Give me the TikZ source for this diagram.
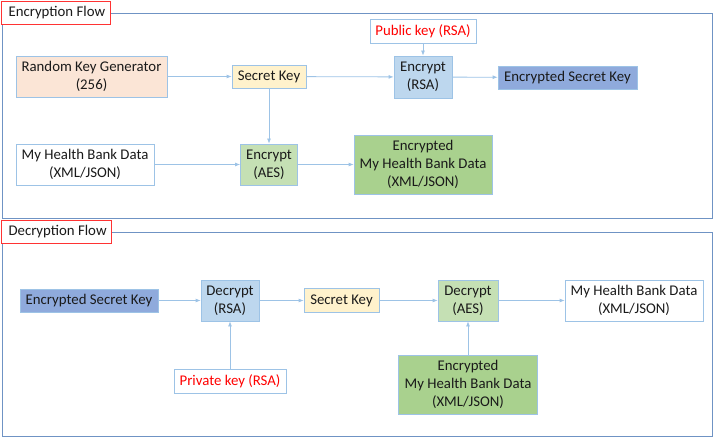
\documentclass[tikz,border=0pt]{standalone}
\usepackage{fontspec}
\setmainfont{Carlito}
\usetikzlibrary{arrows.meta}

\definecolor{frameblue}{HTML}{6F93C4}
\definecolor{boxblue}{HTML}{9DC3E6}
\definecolor{peach}{HTML}{FBE5D6}
\definecolor{paleyellow}{HTML}{FFF2CC}
\definecolor{palegreen}{HTML}{C5E0B4}
\definecolor{midgreen}{HTML}{A9D18E}
\definecolor{paleblue}{HTML}{BDD7EE}
\definecolor{midblue}{HTML}{8FAADC}
\definecolor{keyred}{HTML}{FF0000}
\definecolor{inkgray}{HTML}{1A1A1A}

\tikzset{
    stepbox/.style={draw=boxblue, line width=0.8pt, align=center, inner sep=1pt,
        text=inkgray, font=\fontsize{14.8}{18}\selectfont},
    flowframe/.style={draw=frameblue, line width=0.8pt},
    flowtitle/.style={draw=red!80, line width=0.8pt, fill=white},
    titletext/.style={anchor=west, text=inkgray, font=\fontsize{14.8}{18}\selectfont},
    flowarrow/.style={draw=boxblue, line width=0.8pt, -{Latex[length=5pt,width=4pt]}},
}

\begin{document}
\begin{tikzpicture}[x=1pt,y=-1pt]
    \useasboundingbox (0,0) rectangle (714,438);

    % frames
    \draw[flowframe] (2,13) rectangle (712,218);
    \draw[flowtitle] (1,1) rectangle (110,24);
    \node[titletext] (enctitle) at (5,12.5) {Encryption Flow};
    \draw[flowframe] (2,232) rectangle (712,436);
    \draw[flowtitle] (1,220) rectangle (111,243);
    \node[titletext] (dectitle) at (5,231.5) {Decryption Flow};

    % encryption flow
    \node[stepbox, fill=peach, minimum width=151, minimum height=41] (rkg) at (91.5,76.5) {Random Key Generator\\(256)};
    \node[stepbox, fill=paleyellow, minimum width=74, minimum height=23] (skA) at (269,76.5) {Secret Key};
    \node[stepbox, fill=paleblue, minimum width=58, minimum height=42] (ersa) at (423,77) {Encrypt\\(RSA)};
    \node[stepbox, fill=white, text=keyred, minimum width=106, minimum height=24] (pub) at (423,31) {Public key (RSA)};
    \node[stepbox, fill=midblue, minimum width=139, minimum height=23] (eskA) at (567.5,77.5) {Encrypted Secret Key};
    \node[stepbox, fill=white, minimum width=138, minimum height=41] (mhbdA) at (85,164.5) {My Health Bank Data\\(XML/JSON)};
    \node[stepbox, fill=palegreen, minimum width=57, minimum height=41] (eaes) at (269,164.5) {Encrypt\\(AES)};
    \node[stepbox, fill=midgreen, minimum width=138, minimum height=59] (emhbdA) at (423,164.5) {Encrypted\\My Health Bank Data\\(XML/JSON)};

    \draw[flowarrow] (rkg) -- (skA);
    \draw[flowarrow] (skA) -- (ersa);
    \draw[flowarrow] (pub) -- (ersa);
    \draw[flowarrow] (ersa) -- (eskA);
    \draw[flowarrow] (skA) -- (eaes);
    \draw[flowarrow] (mhbdA) -- (eaes);
    \draw[flowarrow] (eaes) -- (emhbdA);

    % decryption flow
    \node[stepbox, fill=midblue, minimum width=138, minimum height=23] (eskB) at (89,300.5) {Encrypted Secret Key};
    \node[stepbox, fill=paleblue, minimum width=58, minimum height=41] (drsa) at (230,300.5) {Decrypt\\(RSA)};
    \node[stepbox, fill=white, text=keyred, minimum width=112, minimum height=24] (priv) at (230,381) {Private key (RSA)};
    \node[stepbox, fill=paleyellow, minimum width=75, minimum height=24] (skB) at (341.5,300.5) {Secret Key};
    \node[stepbox, fill=palegreen, minimum width=60, minimum height=41] (daes) at (468,300.5) {Decrypt\\(AES)};
    \node[stepbox, fill=white, minimum width=138, minimum height=41] (mhbdB) at (634,300.5) {My Health Bank Data\\(XML/JSON)};
    \node[stepbox, fill=midgreen, minimum width=139, minimum height=59] (emhbdB) at (468,384.5) {Encrypted\\My Health Bank Data\\(XML/JSON)};

    \draw[flowarrow] (eskB) -- (drsa);
    \draw[flowarrow] (priv) -- (drsa);
    \draw[flowarrow] (drsa) -- (skB);
    \draw[flowarrow] (skB) -- (daes);
    \draw[flowarrow] (emhbdB) -- (daes);
    \draw[flowarrow] (daes) -- (mhbdB);
\end{tikzpicture}
\end{document}
